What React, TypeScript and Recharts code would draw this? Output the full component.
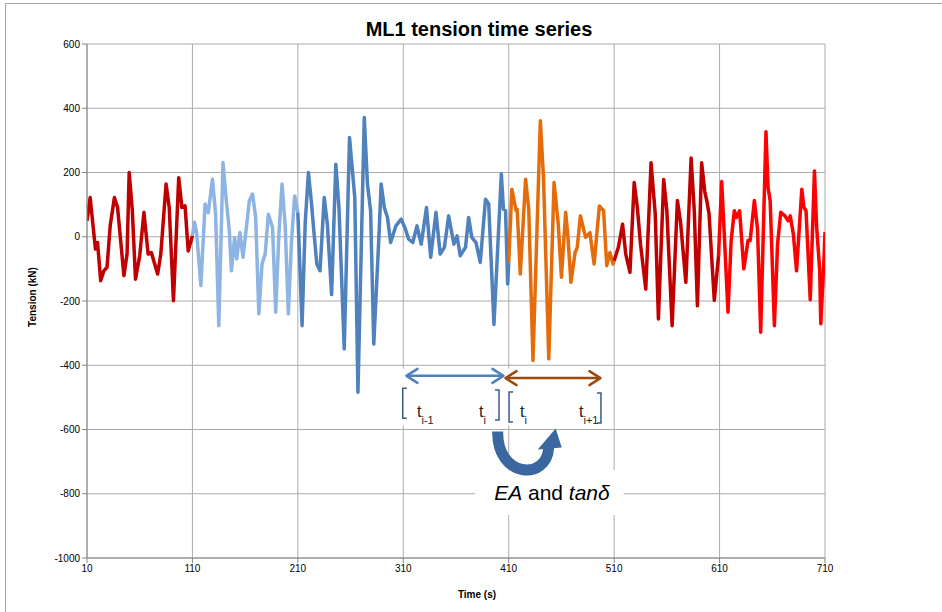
import {
  CartesianGrid,
  Line,
  LineChart,
  ReferenceArea,
  ReferenceDot,
  ReferenceLine,
  XAxis,
  YAxis,
} from 'recharts'

// ML1 tension record, split into the coloured windows used in the figure
const redTimeA = [10, 13, 18, 20, 23, 26, 29, 32, 36, 39, 45, 48, 50, 53, 56, 60, 64, 68, 71, 77, 80, 85, 88, 92, 97, 100, 103, 106, 110]
const redTensionA = [50, 122, -38, -18, -137, -106, -95, 34, 122, 91, -121, -54, 200, 81, -132, -59, 76, -54, -49, -116, -54, 164, 91, -199, 184, 91, 96, -44, 3]

const lightBlueTime = [110, 112, 114, 118, 122, 125, 129, 132, 135, 139, 142, 145, 147, 150, 152, 155, 158, 161, 164, 167, 170, 173, 176, 179, 182, 186, 189, 192, 195, 198, 201, 204, 207, 210]
const lightBlueTension = [3, 45, 13, -152, 102, 75, 179, 70, -277, 231, 117, 19, -106, -2, -69, 13, -64, 24, 112, 133, 60, -240, -85, -54, 70, 29, -235, 8, 164, 34, -240, -12, 127, 76]

const blueTime = [210, 214, 217, 220, 223, 225, 228, 231, 235, 238, 242, 246, 249, 254, 259, 264, 267, 273, 276, 279, 282, 287, 289, 292, 295, 298, 303, 308, 312, 315, 319, 323, 327, 332, 336, 341, 345, 349, 353, 358, 361, 364, 369, 372, 375, 379, 383, 388, 391, 396, 403, 405, 407, 409, 410]
const blueTension = [76, -277, 45, 200, 102, 24, -85, -106, 122, 39, -180, 226, 91, -349, 309, 122, -484, 371, 164, 81, -334, 8, 164, 91, 60, -18, 34, 55, 24, -7, -18, 34, -23, 91, -64, 76, -54, -33, 65, -23, 3, -59, -33, 60, -2, -18, -80, 117, 102, -273, 195, 86, 81, -147, -80]

const orangeTime = [410, 413, 417, 418, 421, 426, 429, 433, 440, 443, 448, 453, 457, 460, 464, 466, 469, 473, 475, 478, 481, 483, 487, 491, 496, 500, 503, 506, 509, 510]
const orangeTension = [-80, 148, 81, 86, -116, 179, 86, -385, 361, 184, -380, 169, 39, -126, 76, 8, -142, -49, -33, 65, 24, -2, 13, -85, 96, 81, -90, -49, -85, -75]

const redTimeB = [510, 514, 518, 521, 525, 529, 532, 535, 540, 545, 549, 552, 557, 560, 565, 570, 573, 578, 583, 586, 589, 593, 596, 598, 600, 605, 609]
const redTensionB = [-75, -33, 39, -54, -111, 169, 91, -23, -163, 230, 70, -256, 178, 81, -277, 113, 45, -142, 245, 81, -215, 230, 140, 110, 72, -198, -60]

const brightRedTime = [609, 612, 614, 618, 621, 624, 626, 629, 633, 637, 639, 643, 646, 649, 654, 656, 658, 662, 665, 668, 672, 675, 677, 680, 683, 688, 690, 692, 696, 700, 702, 705, 706, 709, 710]
const brightRedTension = [-60, 172, 39, -235, -12, 81, 60, 81, -100, -12, -12, 113, 24, -297, 327, 153, 112, -277, -23, 76, 65, 50, 65, 8, -106, 148, 91, 81, -196, 205, 34, -106, -271, -75, 15]

const timeTicks = [10, 110, 210, 310, 410, 510, 610, 710]
const tensionTicks = [-1000, -800, -600, -400, -200, 0, 200, 400, 600]

const TICK_FONT = "'Liberation Sans Narrow', 'Liberation Sans', Arial, sans-serif"
const TEXT_FONT = "'Liberation Sans', Arial, sans-serif"

const toPoints = (t: number[], v: number[]) => t.map((time, i) => ({ t: time, v: v[i] }))

const segments = [
  { key: 'a', data: toPoints(redTimeA, redTensionA), color: '#C00000' },
  { key: 'b', data: toPoints(lightBlueTime, lightBlueTension), color: '#8EB4E3' },
  { key: 'c', data: toPoints(blueTime, blueTension), color: '#4F81BD' },
  { key: 'd', data: toPoints(orangeTime, orangeTension), color: '#E46C0A' },
  { key: 'e', data: toPoints(redTimeB, redTensionB), color: '#C00000' },
  { key: 'f', data: toPoints(brightRedTime, brightRedTension), color: '#FF0000' },
]

function DoubleArrow(props: any) {
  const { x1, y1, x2, color } = props
  const a = 11
  const h = 7
  return (
    <g stroke={color} strokeWidth={2.5} fill="none" strokeLinecap="round" strokeLinejoin="round">
      <line x1={x1 + 1} y1={y1} x2={x2 - 1} y2={y1} />
      <polyline points={`${x1 + a},${y1 - h} ${x1},${y1} ${x1 + a},${y1 + h}`} />
      <polyline points={`${x2 - a},${y1 - h} ${x2},${y1} ${x2 - a},${y1 + h}`} />
    </g>
  )
}

function Bracket({ cx, cy, side }: { cx: number; cy: number; side: 'left' | 'right' }) {
  const s = side === 'left' ? 4 : -4
  const half = 15
  return (
    <polyline
      points={`${cx + s},${cy - half} ${cx},${cy - half} ${cx},${cy + half} ${cx + s},${cy + half}`}
      fill="none"
      stroke="#385D8A"
      strokeWidth={1.5}
    />
  )
}

function SubLabel({ cx, cy, sub }: { cx: number; cy: number; sub: string }) {
  return (
    <text x={cx} y={cy} fontFamily={TEXT_FONT} fontSize={16} fill="#222">
      t
      <tspan fontSize={11} dy={7}>
        {sub}
      </tspan>
    </text>
  )
}

function CurvedArrow({ cx, cy }: { cx: number; cy: number }) {
  const p = (dx: number, dy: number) => `${cx + dx},${cy + dy}`
  return (
    <g>
      <path
        d={`M ${p(-11, 2)} C ${p(-12, 48)} ${p(38, 52)} ${p(40, 18)}`}
        fill="none"
        stroke="#3A67A0"
        strokeWidth={11}
      />
      <polygon points={`${p(29, 20)} ${p(53, 18)} ${p(47, -1)}`} fill="#3A67A0" />
    </g>
  )
}

export default function App() {
  return (
    <div
      style={{
        position: 'absolute',
        left: 0,
        top: 0,
        width: 942,
        height: 612,
        background: '#fff',
        overflow: 'hidden',
      }}
    >
      <div
        style={{
          position: 'absolute',
          left: 5,
          top: 3,
          width: 937,
          height: 609,
          borderTop: '1px solid #A6A6A6',
          borderLeft: '1px solid #A6A6A6',
        }}
      />
      <div
        style={{
          position: 'absolute',
          left: 279,
          top: 19,
          width: 400,
          textAlign: 'center',
          fontFamily: TEXT_FONT,
          fontWeight: 'bold',
          fontSize: 20,
          lineHeight: '20px',
        }}
      >
        ML1 tension time series
      </div>
      <div
        style={{
          position: 'absolute',
          left: 427,
          top: 590,
          width: 100,
          textAlign: 'center',
          fontFamily: TICK_FONT,
          fontWeight: 'bold',
          fontSize: 10,
          lineHeight: '10px',
        }}
      >
        Time (s)
      </div>
      <div
        style={{
          position: 'absolute',
          left: -17,
          top: 292,
          width: 100,
          textAlign: 'center',
          transform: 'rotate(-90deg)',
          fontFamily: TICK_FONT,
          fontWeight: 'bold',
          fontSize: 10,
          lineHeight: '10px',
        }}
      >
        Tension (kN)
      </div>
      <LineChart
        width={942}
        height={612}
        margin={{ top: 44, right: 117, bottom: 24, left: 27 }}
        style={{ position: 'absolute', left: 0, top: 0 }}
      >
        <CartesianGrid stroke="#ABABAB" />
        <XAxis
          type="number"
          dataKey="t"
          domain={[10, 710]}
          ticks={timeTicks}
          allowDataOverflow
          height={30}
          stroke="#868686"
          tickSize={5}
          tick={{ fill: '#000', fontSize: 10, fontFamily: TICK_FONT }}
        />
        <YAxis
          type="number"
          domain={[-1000, 600]}
          ticks={tensionTicks}
          allowDataOverflow
          width={60}
          stroke="#868686"
          tickSize={5}
          tick={{ fill: '#000', fontSize: 10, fontFamily: TICK_FONT }}
        />
        <ReferenceArea x1={305} x2={406} y1={-410} y2={-588} fill="#fff" fillOpacity={1} stroke="none" />
        <ReferenceArea x1={407} x2={503} y1={-410} y2={-588} fill="#fff" fillOpacity={1} stroke="none" />
        <ReferenceArea x1={378} x2={519} y1={-726} y2={-866} fill="#fff" fillOpacity={1} stroke="none" />
        {segments.map((s) => (
          <Line
            key={s.key}
            data={s.data}
            dataKey="v"
            type="linear"
            stroke={s.color}
            strokeWidth={3.5}
            strokeLinejoin="round"
            dot={false}
            activeDot={false}
            isAnimationActive={false}
          />
        ))}
        <ReferenceLine
          segment={[{ x: 313, y: -433 }, { x: 405, y: -433 }]}
          shape={(p: any) => <DoubleArrow {...p} color="#4F81BD" />}
        />
        <ReferenceLine
          segment={[{ x: 407, y: -440 }, { x: 497, y: -440 }]}
          shape={(p: any) => <DoubleArrow {...p} color="#9C4A0E" />}
        />
        <ReferenceDot x={309.5} y={-518} r={1} ifOverflow="visible" shape={(p: any) => <Bracket cx={p.cx} cy={p.cy} side="left" />} />
        <ReferenceDot x={400.8} y={-524} r={1} ifOverflow="visible" shape={(p: any) => <Bracket cx={p.cx} cy={p.cy} side="right" />} />
        <ReferenceDot x={410.3} y={-530} r={1} ifOverflow="visible" shape={(p: any) => <Bracket cx={p.cx} cy={p.cy} side="left" />} />
        <ReferenceDot x={497.5} y={-533} r={1} ifOverflow="visible" shape={(p: any) => <Bracket cx={p.cx} cy={p.cy} side="right" />} />
        <ReferenceDot x={323} y={-561} r={1} ifOverflow="visible" shape={(p: any) => <SubLabel cx={p.cx} cy={p.cy} sub="i-1" />} />
        <ReferenceDot x={381.8} y={-561} r={1} ifOverflow="visible" shape={(p: any) => <SubLabel cx={p.cx} cy={p.cy} sub="i" />} />
        <ReferenceDot x={420.7} y={-561} r={1} ifOverflow="visible" shape={(p: any) => <SubLabel cx={p.cx} cy={p.cy} sub="i" />} />
        <ReferenceDot x={476.7} y={-561} r={1} ifOverflow="visible" shape={(p: any) => <SubLabel cx={p.cx} cy={p.cy} sub="i+1" />} />
        <ReferenceDot x={410} y={-600} r={1} ifOverflow="visible" shape={(p: any) => <CurvedArrow cx={p.cx} cy={p.cy} />} />
        <ReferenceDot
          x={451}
          y={-820}
          r={1}
          ifOverflow="visible"
          shape={(p: any) => (
            <text x={p.cx} y={p.cy} textAnchor="middle" fontFamily={TEXT_FONT} fontSize={21} fill="#000">
              <tspan fontStyle="italic">EA</tspan> and <tspan fontStyle="italic">tanδ</tspan>
            </text>
          )}
        />
      </LineChart>
    </div>
  )
}
